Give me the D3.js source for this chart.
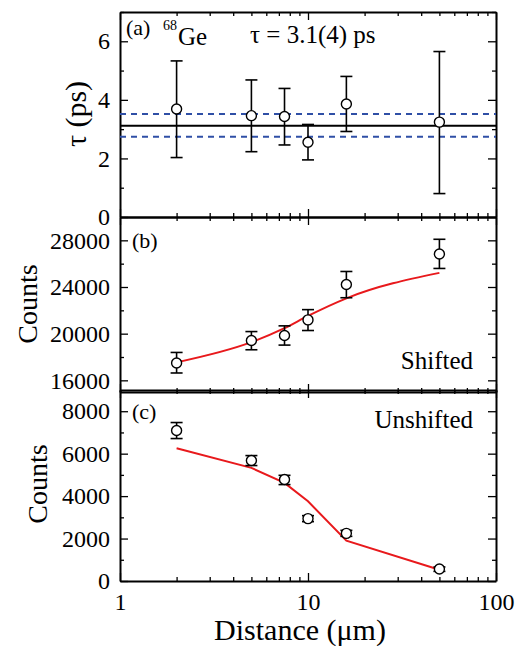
<!DOCTYPE html>
<html>
<head>
<meta charset="utf-8">
<script src="https://cdn.jsdelivr.net/npm/d3@7"></script>
<style>
  body { margin: 0; background: #fff; }
  .axis path, .axis line { stroke: #000; }
  .axis path { stroke-width: 2; }
  .axis line { stroke-width: 1.3; }
</style>
</head>
<body>
<svg id="chart" width="527" height="646"></svg>
<script>
// distances (um)
var distances = [2, 5, 7.5, 10, 16, 50];

// (a) lifetime per distance
var tau = [3.69, 3.46, 3.43, 2.55, 3.86, 3.24];
var tauHi = [5.33, 4.68, 4.39, 3.16, 4.80, 5.65];
var tauLo = [2.03, 2.23, 2.46, 1.95, 2.92, 0.80];
var tauMean = 3.12;
var tauBand = [2.74, 3.52];

// (b) shifted counts
var shifted = [17480, 19410, 19840, 21180, 24220, 26830];
var shiftedHi = [18390, 20180, 20670, 22060, 25330, 28090];
var shiftedLo = [16630, 18620, 19020, 20270, 23080, 25590];
var shiftedFit = [17540, 19270, 20470, 21520, 23030, 25210];

// (c) unshifted counts
var unshifted = [7090, 5675, 4780, 2940, 2245, 566];
var unshiftedHi = [7467, 5910, 4980, 3080, 2387, 660];
var unshiftedLo = [6712, 5440, 4543, 2797, 2104, 453];
var unshiftedFit = [6255, 5330, 4623, 3755, 1900, 533];

var xMajor = [1, 10, 100];
var xMinor = [2, 3, 4, 5, 6, 7, 8, 9, 20, 30, 40, 50, 60, 70, 80, 90];

var FONT = "'Liberation Serif', 'Times New Roman', 'DejaVu Serif', serif";

var svg = d3.select("#chart");
svg.append("rect").attr("width", 527).attr("height", 646).attr("fill", "#fff");

var x = d3.scaleLog().domain([1, 100]).range([120, 496]);

var panels = [
    {top: 12, bottom: 217, domain: [0, 7], major: [0, 2, 4, 6], minor: [1, 3, 5, 7]},
    {top: 217, bottom: 392, domain: [15000, 30000], major: [16000, 20000, 24000, 28000], minor: [18000, 22000, 26000]},
    {top: 390, bottom: 581, domain: [0, 9000], major: [0, 2000, 4000, 6000, 8000], minor: [1000, 3000, 5000, 7000]}
];

function styleText(s) {
    s.attr("font-family", FONT);
    s.selectAll("text").style("font-family", FONT).style("font-size", "24px").attr("fill", "#000");
}

panels.forEach(function(p, i) {
    p.y = d3.scaleLinear().domain(p.domain).range([p.bottom, p.top]);
    var g = svg.append("g");

    // y axes, ticks pointing inward
    g.append("g").attr("class", "axis").attr("transform", "translate(120,0)")
        .call(d3.axisLeft(p.y).tickValues(p.major).tickSizeInner(-8).tickSizeOuter(0).tickPadding(10).tickFormat(d3.format("d")))
        .call(styleText);
    g.append("g").attr("class", "axis").attr("transform", "translate(120,0)")
        .call(d3.axisLeft(p.y).tickValues(p.minor).tickSizeInner(-4).tickSizeOuter(0).tickFormat(""))
        .select(".domain").remove();
    g.append("g").attr("class", "axis").attr("transform", "translate(496,0)")
        .call(d3.axisRight(p.y).tickValues(p.major).tickSizeInner(-8).tickSizeOuter(0).tickFormat(""));
    g.append("g").attr("class", "axis").attr("transform", "translate(496,0)")
        .call(d3.axisRight(p.y).tickValues(p.minor).tickSizeInner(-4).tickSizeOuter(0).tickFormat(""))
        .select(".domain").remove();

    // x axes top and bottom
    g.append("g").attr("class", "axis").attr("transform", "translate(0," + p.top + ")")
        .call(d3.axisTop(x).tickValues(xMajor).tickSizeInner(-8).tickSizeOuter(0).tickFormat(""));
    g.append("g").attr("class", "axis").attr("transform", "translate(0," + p.top + ")")
        .call(d3.axisTop(x).tickValues(xMinor).tickSizeInner(-4).tickSizeOuter(0).tickFormat(""))
        .select(".domain").remove();
    g.append("g").attr("class", "axis").attr("transform", "translate(0," + p.bottom + ")")
        .call(d3.axisBottom(x).tickValues(xMajor).tickSizeInner(-8).tickSizeOuter(0).tickPadding(12)
            .tickFormat(i === 2 ? d3.format("d") : ""))
        .call(styleText);
    g.append("g").attr("class", "axis").attr("transform", "translate(0," + p.bottom + ")")
        .call(d3.axisBottom(x).tickValues(xMinor).tickSizeInner(-4).tickSizeOuter(0).tickFormat(""))
        .select(".domain").remove();
});

// panel (a) reference lines
var pa = panels[0];
svg.append("line").attr("x1", 120).attr("x2", 496)
    .attr("y1", pa.y(tauMean)).attr("y2", pa.y(tauMean))
    .attr("stroke", "#000").attr("stroke-width", 2);
tauBand.forEach(function(v) {
    svg.append("line").attr("x1", 120).attr("x2", 496)
        .attr("y1", pa.y(v)).attr("y2", pa.y(v))
        .attr("stroke", "#2f4fa6").attr("stroke-width", 2).attr("stroke-dasharray", "6,5");
});

// fit lines
var fitB = d3.line().x(function(d, i) { return x(distances[i]); })
    .y(function(d) { return panels[1].y(d); }).curve(d3.curveMonotoneX);
svg.append("path").attr("d", fitB(shiftedFit)).attr("fill", "none")
    .attr("stroke", "#e8191c").attr("stroke-width", 2);
var fitC = d3.line().x(function(d, i) { return x(distances[i]); })
    .y(function(d) { return panels[2].y(d); });
svg.append("path").attr("d", fitC(unshiftedFit)).attr("fill", "none")
    .attr("stroke", "#e8191c").attr("stroke-width", 2);

// error bars + open circles
function points(p, vals, hi, lo) {
    var g = svg.append("g");
    distances.forEach(function(d, i) {
        var cx = x(d);
        g.append("line").attr("x1", cx).attr("x2", cx).attr("y1", p.y(hi[i])).attr("y2", p.y(lo[i]))
            .attr("stroke", "#000").attr("stroke-width", 1.6);
        [hi[i], lo[i]].forEach(function(v) {
            g.append("line").attr("x1", cx - 6).attr("x2", cx + 6).attr("y1", p.y(v)).attr("y2", p.y(v))
                .attr("stroke", "#000").attr("stroke-width", 1.6);
        });
        g.append("circle").attr("cx", cx).attr("cy", p.y(vals[i])).attr("r", 5)
            .attr("fill", "#fff").attr("stroke", "#000").attr("stroke-width", 1.4);
    });
}
points(panels[0], tau, tauHi, tauLo);
points(panels[1], shifted, shiftedHi, shiftedLo);
points(panels[2], unshifted, unshiftedHi, unshiftedLo);

// labels
function label(xp, yp, size, txt, anchor) {
    return svg.append("text").attr("x", xp).attr("y", yp)
        .attr("text-anchor", anchor || "start")
        .style("font-family", FONT).style("font-size", size + "px").text(txt);
}
label(126, 35, 22, "(a)");
label(163, 30, 14, "68");
label(178, 45, 25, "Ge");
label(250, 43, 25, "τ = 3.1(4) ps");
label(132, 248, 22, "(b)");
label(473, 369, 25, "Shifted", "end");
label(132, 419, 22, "(c)");
label(473, 428, 25, "Unshifted", "end");

function vlabel(xp, yp, size, txt) {
    svg.append("text").attr("transform", "translate(" + xp + "," + yp + ") rotate(-90)")
        .attr("text-anchor", "middle")
        .style("font-family", FONT).style("font-size", size + "px").text(txt);
}
vlabel(86, 114, 30, "τ (ps)");
vlabel(37, 304, 28, "Counts");
vlabel(47, 484, 28, "Counts");
label(300, 640, 30, "Distance (μm)", "middle");
</script>
</body>
</html>
